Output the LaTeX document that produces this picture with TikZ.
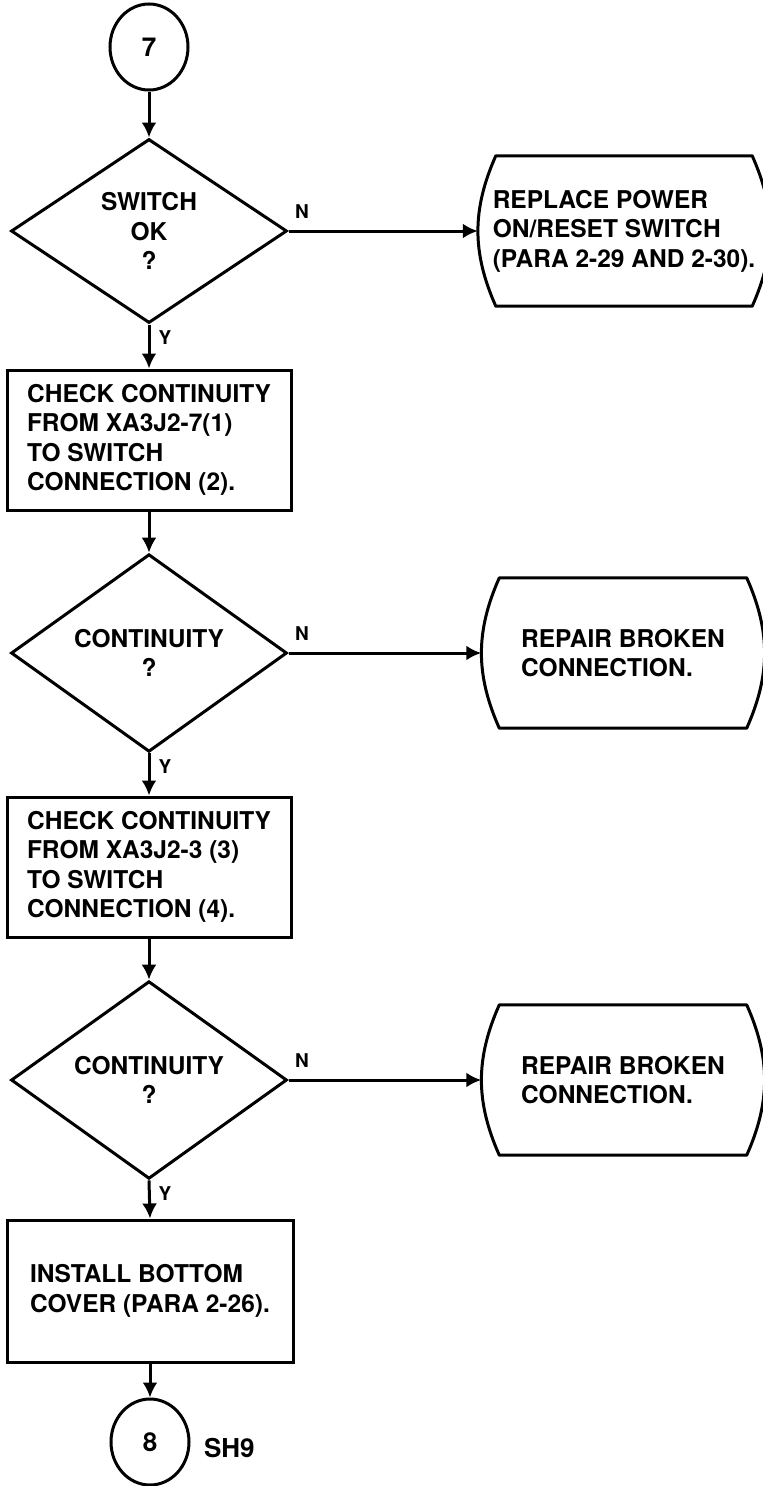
\documentclass[tikz,border=0pt]{standalone}
\usepackage{fontspec}
\setmainfont{TeX Gyre Heros}
\usetikzlibrary{shapes.geometric,arrows.meta,positioning}

% outline of a terminal box (flat top and bottom, bulging sides)
\newcommand{\termoutline}[1]{%
  \draw[line width=3pt, line join=round]
    ([xshift=18pt]#1.north west) -- ([xshift=-18pt]#1.north east)
    to[bend left=24] ([xshift=-18pt]#1.south east)
    -- ([xshift=18pt]#1.south west)
    to[bend left=24] ([xshift=18pt]#1.north west) -- cycle;}

\begin{document}
\begin{tikzpicture}[x=1pt, y=-1pt,
    font=\fontsize{24.5}{29.5}\selectfont\bfseries,
    flow/.style={line width=3pt, -{Latex[length=15pt,width=15pt]}},
    conn/.style={ellipse, draw, line width=3pt, minimum width=78pt, minimum height=86pt, inner sep=0pt, font=\fontsize{26}{26}\selectfont\bfseries},
    decision/.style={diamond, draw, line width=3pt, minimum width=276pt, minimum height=184pt, inner sep=0pt, align=center},
    process/.style={rectangle, draw, line width=3pt, minimum width=284pt, minimum height=140pt, align=left},
    terminal/.style={rectangle, minimum width=283pt, minimum height=150pt, align=left},
    yn/.style={font=\fontsize{19}{19}\selectfont\bfseries, inner sep=0pt, anchor=base west}]

    \useasboundingbox (0,0) rectangle (763,1486);

    % Entry connector
    \node[conn] (c7) at (149,47) {7};

    % Switch test
    \node[decision] (d1) at (149,231) {SWITCH\\OK\\?};
    \node[terminal, minimum width=292pt] (t1) at (624,231) {REPLACE POWER\\ON/RESET SWITCH\\(PARA 2-29 AND 2-30).};
    \termoutline{t1}

    % First continuity check
    \node[process] (b1) at (149,440) {CHECK CONTINUITY\\FROM XA3J2-7(1)\\TO SWITCH\\CONNECTION (2).};
    \node[decision] (d2) at (149,653) {CONTINUITY\\?};
    \node[terminal] (t2) at (623,653) {REPAIR BROKEN\\CONNECTION.};
    \termoutline{t2}

    % Second continuity check
    \node[process] (b2) at (149,867) {CHECK CONTINUITY\\FROM XA3J2-3 (3)\\TO SWITCH\\CONNECTION (4).};
    \node[decision] (d3) at (149,1080) {CONTINUITY\\?};
    \node[terminal] (t3) at (623,1080) {REPAIR BROKEN\\CONNECTION.};
    \termoutline{t3}

    % Finish
    \node[process, minimum width=286pt, minimum height=142pt] (b3) at (150,1291) {INSTALL BOTTOM\\COVER (PARA 2-26).};
    \node[conn] (c8) at (150,1442) {8};
    \node[right=10pt of c8, yshift=-6pt, font=\fontsize{26}{26}\selectfont\bfseries] (sh9) {SH9};

    % Arrows
    \draw[flow] (c7) -- (d1);
    \draw[flow] (d1.east) -- node[yn, pos=0, xshift=5pt, yshift=13pt] {N} (t1.west);
    \draw[flow] (d1.south) -- node[yn, pos=0, xshift=8pt, yshift=-20pt] {Y} (b1.north);
    \draw[flow] (b1) -- (d2);
    \draw[flow] (d2.east) -- node[yn, pos=0, xshift=5pt, yshift=13pt] {N} (t2.west);
    \draw[flow] (d2.south) -- node[yn, pos=0, xshift=8pt, yshift=-20pt] {Y} (b2.north);
    \draw[flow] (b2) -- (d3);
    \draw[flow] (d3.east) -- node[yn, pos=0, xshift=5pt, yshift=13pt] {N} (t3.west);
    \draw[flow] (d3.south) -- node[yn, pos=0, xshift=8pt, yshift=-20pt] {Y} (b3.north);
    \draw[flow] (b3) -- (c8);

\end{tikzpicture}
\end{document}
